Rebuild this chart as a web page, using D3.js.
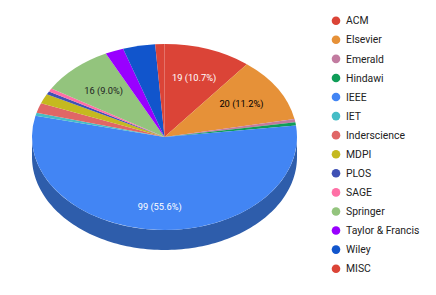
<!DOCTYPE html>
<html>
<head>
<meta charset="utf-8">
<script src="https://cdn.jsdelivr.net/npm/d3@7"></script>
<style>
  html, body { margin: 0; padding: 0; background: #fff; }
  text { font-family: Roboto, sans-serif; }
</style>
</head>
<body>
<div id="chart"></div>
<script>
// Publisher counts, clockwise from 12 o'clock
const publishers = ["ACM", "Elsevier", "Emerald", "Hindawi", "IEEE", "IET", "Inderscience", "MDPI", "PLOS", "SAGE", "Springer", "Taylor & Francis", "Wiley", "MISC"];
const counts = [19, 20, 1, 1, 99, 1, 3, 3, 1, 1, 16, 4, 7, 2];
const colors = ["#db4437", "#e69138", "#c27ba0", "#0f9d58", "#4285f4", "#46bdc6", "#e06666", "#c5b91f", "#3f51b5", "#ff70a6", "#93c47d", "#9900ff", "#1155cc", "#db4437"];
const sideColors = ["#99302a", "#a16527", "#885670", "#0a6e3e", "#2e5dab", "#31848b", "#9d4747", "#8a8116", "#2c397f", "#b34e74", "#678957", "#6b00b3", "#0c3b8f", "#99302a"];
const labelColors = ["#fff", "#000", null, null, "#fff", null, null, null, null, null, "#222", null, null, null];

const width = 436, height = 295;
const cx = 164.5, cy = 137, rx = 132.5, ry = 93, depth = 20;
const total = d3.sum(counts);

const svg = d3.select("#chart").append("svg")
    .attr("width", width)
    .attr("height", height)
    .style("display", "block");

const pie = d3.pie().sort(null).value(d => d.value);
const slices = pie(publishers.map((name, i) => ({name, value: counts[i], i})));

// Side wall: only the part of a slice facing the viewer (90deg to 270deg)
const side = d3.area()
    .x(a => cx + rx * Math.sin(a))
    .y0(a => cy - ry * Math.cos(a))
    .y1(a => cy - ry * Math.cos(a) + depth);

svg.append("g").selectAll("path")
    .data(slices.filter(s => s.endAngle > Math.PI / 2 && s.startAngle < Math.PI * 1.5))
    .enter()
    .append("path")
    .attr("d", s => {
        const a0 = Math.max(s.startAngle, Math.PI / 2);
        const a1 = Math.min(s.endAngle, Math.PI * 1.5);
        return side(d3.range(0, 121).map(k => a0 + (a1 - a0) * k / 120));
    })
    .attr("fill", s => sideColors[s.data.i]);

// Top face, a flattened pie
const arc = d3.arc().innerRadius(0).outerRadius(rx);
const labelArc = d3.arc().innerRadius(rx * 0.68).outerRadius(rx * 0.68);

svg.append("g")
    .attr("transform", `translate(${cx},${cy}) scale(1,${ry / rx})`)
    .selectAll("path")
    .data(slices)
    .enter()
    .append("path")
    .attr("d", arc)
    .attr("fill", s => colors[s.data.i]);

// Slice labels, only for the big slices. Labels sit a bit lower towards the front.
const labelY = s => {
    const y = labelArc.centroid(s)[1] * ry / rx;
    return cy + y + Math.max(0, y) * 0.1 + 3.3;
};

svg.append("g").selectAll("text")
    .data(slices.filter(s => labelColors[s.data.i]))
    .enter()
    .append("text")
    .attr("x", s => cx + labelArc.centroid(s)[0])
    .attr("y", labelY)
    .attr("text-anchor", "middle")
    .attr("fill", s => labelColors[s.data.i])
    .style("font-size", "9.3px")
    .text(s => `${s.data.value} (${(s.data.value / total * 100).toFixed(1)}%)`);

// Legend
const legendY = d3.scalePoint().domain(publishers).range([20.7, 268.7]);

const legend = svg.append("g").selectAll("g")
    .data(publishers)
    .enter()
    .append("g")
    .attr("transform", d => `translate(336,${legendY(d)})`);

legend.append("circle")
    .attr("r", 4.3)
    .attr("fill", (d, i) => colors[i]);

legend.append("text")
    .attr("x", 10)
    .attr("y", 3.7)
    .attr("fill", "#222")
    .style("font-size", "10.4px")
    .text(d => d);
</script>
</body>
</html>
